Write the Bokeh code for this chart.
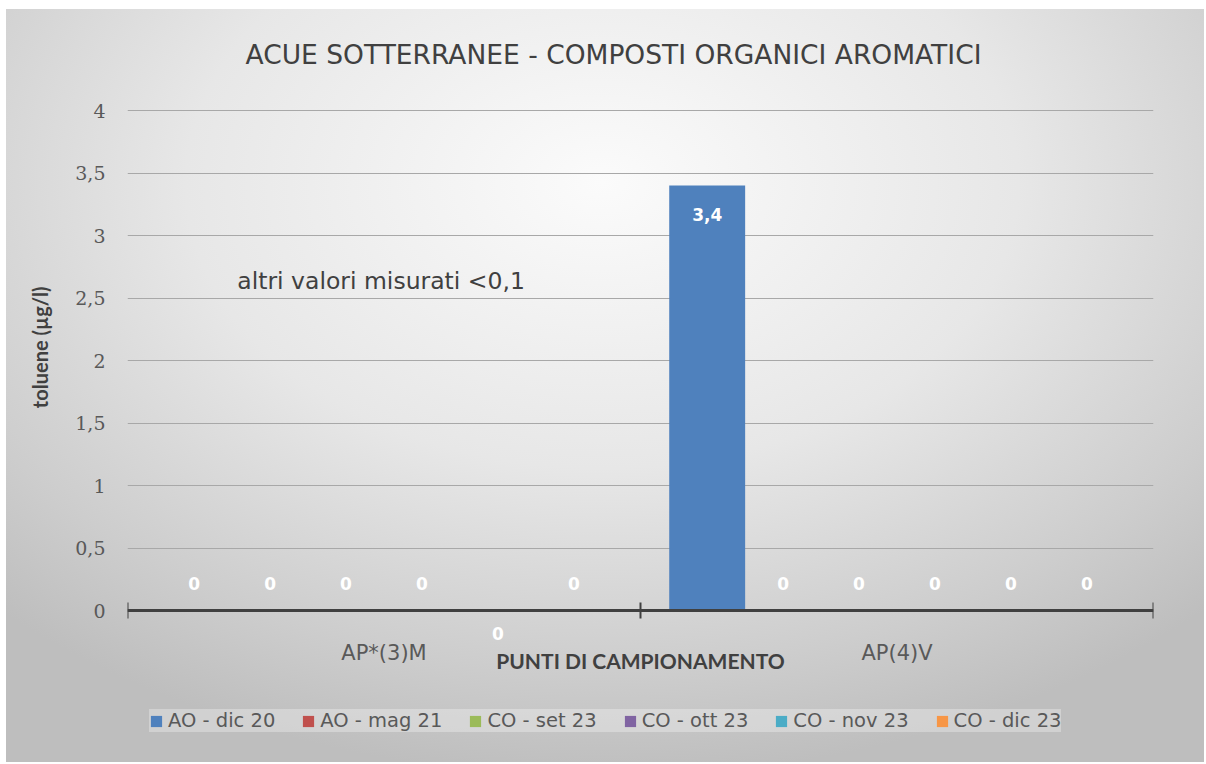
from bokeh.plotting import figure
from bokeh.models import (Range1d, FixedTicker, ColumnDataSource, Label, Title,
                          Legend, LegendItem, InlineStyleSheet)
from bokeh.embed import file_html
from bokeh.resources import INLINE

# ---------------- data ----------------
categories = ["AP*(3)M", "AP(4)V"]
series_names = ["AO - dic 20", "AO - mag 21", "CO - set 23", "CO - ott 23", "CO - nov 23", "CO - dic 23"]
series_colors = ["#4f81bd", "#c0504d", "#9bbb59", "#8064a2", "#4bacc6", "#f79646"]
values_ap3m = [0, 0, 0, 0, 0, 0]
values_ap4v = [3.4, 0, 0, 0, 0, 0]
y_ticks = [0, 0.5, 1, 1.5, 2, 2.5, 3, 3.5, 4]
y_tick_labels = ["0", "0,5", "1", "1,5", "2", "2,5", "3", "3,5", "4"]
title_text = "ACUE SOTTERRANEE - COMPOSTI ORGANICI AROMATICI"
y_title = "toluene (µg/l)"
x_title = "PUNTI DI CAMPIONAMENTO"
note_text = "altri valori misurati  <0,1"

SANS = "DejaVu Sans"
LATO = "Lato"
DARK = "#404040"
MID = "#595959"

# frame: 125 px per unit, extended below zero to hold axis texts and legend
p = figure(width=1204, height=762, frame_width=1026, frame_height=655,
           min_border_left=127, min_border_right=51, min_border_top=105, min_border_bottom=2,
           x_range=Range1d(0, len(categories)), y_range=Range1d(-1.2, 4.04),
           output_backend="svg", toolbar_location=None)

p.background_fill_color = None
p.border_fill_color = None
p.outline_line_color = None
p.stylesheets = [InlineStyleSheet(css=""":host {
  background:
    linear-gradient(#ffffff, #ffffff) top left / 100% 9px no-repeat,
    linear-gradient(#ffffff, #ffffff) top left / 6px 100% no-repeat,
    radial-gradient(ellipse 72% 78% at 50% 24%, #fbfbfb 0%, #e7e7e7 48%, #cdcdcd 82%, #bebebe 100%);
}""")]

p.add_layout(Title(text=title_text, align="left", offset=118, standoff=72,
                   text_font=SANS, text_font_size="26.5px", text_font_style="normal",
                   text_color=DARK), "above")

# y axis
p.yaxis.ticker = FixedTicker(ticks=y_ticks)
p.yaxis.major_label_overrides = {t: l for t, l in zip(y_ticks, y_tick_labels)}
p.yaxis.major_label_text_font = "DejaVu Serif"
p.yaxis.major_label_text_font_size = "19px"
p.yaxis.major_label_text_color = MID
p.yaxis.axis_line_color = None
p.yaxis.major_tick_line_color = None
p.yaxis.minor_tick_line_color = None
p.yaxis.major_tick_out = 0
p.yaxis.major_tick_in = 0
p.yaxis.major_label_standoff = 22

# y axis title (beside the axis, centred on the 0..4 span)
p.add_layout(Title(text=y_title, align="right", offset=181, standoff=42,
                   text_font=LATO, text_font_size="20px", text_font_style="bold",
                   text_color=DARK), "left")

# x axis, fixed at y = 0
centers = [i + 0.5 for i in range(len(categories))]
bounds = [i for i in range(len(categories) + 1)]
p.xaxis.fixed_location = 0
p.xaxis.ticker = FixedTicker(ticks=centers, minor_ticks=bounds)
p.xaxis.major_label_overrides = {c: n for c, n in zip(centers, categories)}
p.xaxis.major_label_text_font = SANS
p.xaxis.major_label_text_font_size = "21px"
p.xaxis.major_label_text_color = MID
p.xaxis.major_tick_line_color = None
p.xaxis.major_tick_out = 0
p.xaxis.major_tick_in = 0
p.xaxis.minor_tick_line_color = DARK
p.xaxis.minor_tick_line_width = 2
p.xaxis.minor_tick_in = 8
p.xaxis.minor_tick_out = 8
p.xaxis.axis_line_color = DARK
p.xaxis.axis_line_width = 3
p.xaxis.major_label_standoff = 22
p.xaxis.axis_label = x_title
p.xaxis.axis_label_text_font = LATO
p.xaxis.axis_label_text_font_size = "21px"
p.xaxis.axis_label_text_font_style = "bold"
p.xaxis.axis_label_text_color = DARK
p.xaxis.axis_label_standoff = -20

p.xgrid.grid_line_color = None
p.ygrid.grid_line_color = "#a8a8a8"
p.ygrid.grid_line_width = 1

# bars
n = len(series_names)
gap = 0.112
bw = (1 - gap) / n
all_vals = list(zip(values_ap3m, values_ap4v))
items = []
for j, name in enumerate(series_names):
    off = -0.5 + gap / 2 + (j + 0.5) * bw
    xs = [c + off for c in centers]
    tops = list(all_vals[j])
    labs = [("%g" % v).replace(".", ",") for v in tops]
    src = ColumnDataSource(dict(x=xs, top=tops))
    r = p.vbar(x="x", top="top", width=bw, source=src, fill_color=series_colors[j], line_color=None)
    items.append(LegendItem(label=name, renderers=[r]))
    for k, v in enumerate(tops):
        if v > 0:
            yoff = -29
        elif j == 4 and k == 0:
            yoff = -23
        else:
            yoff = 27
        p.add_layout(Label(x=xs[k], y=v, text=labs[k], y_offset=yoff,
                           text_align="center", text_baseline="middle",
                           text_color="white", text_font=SANS,
                           text_font_size="17px", text_font_style="bold"))

p.add_layout(Label(x=0.214, y=2.64, text=note_text, text_baseline="middle",
                   text_font=SANS, text_font_size="23.5px", text_color=DARK))

legend = Legend(items=items, orientation="horizontal", location=(22, 28),
                label_text_font=SANS, label_text_font_size="19.5px", label_text_color=MID,
                glyph_width=14, glyph_height=14, label_standoff=5, spacing=26,
                padding=10, margin=0, background_fill_color="white", background_fill_alpha=0.3,
                border_line_color=None)
p.add_layout(legend, "center")

open("out.html", "w").write(file_html(p, INLINE))
